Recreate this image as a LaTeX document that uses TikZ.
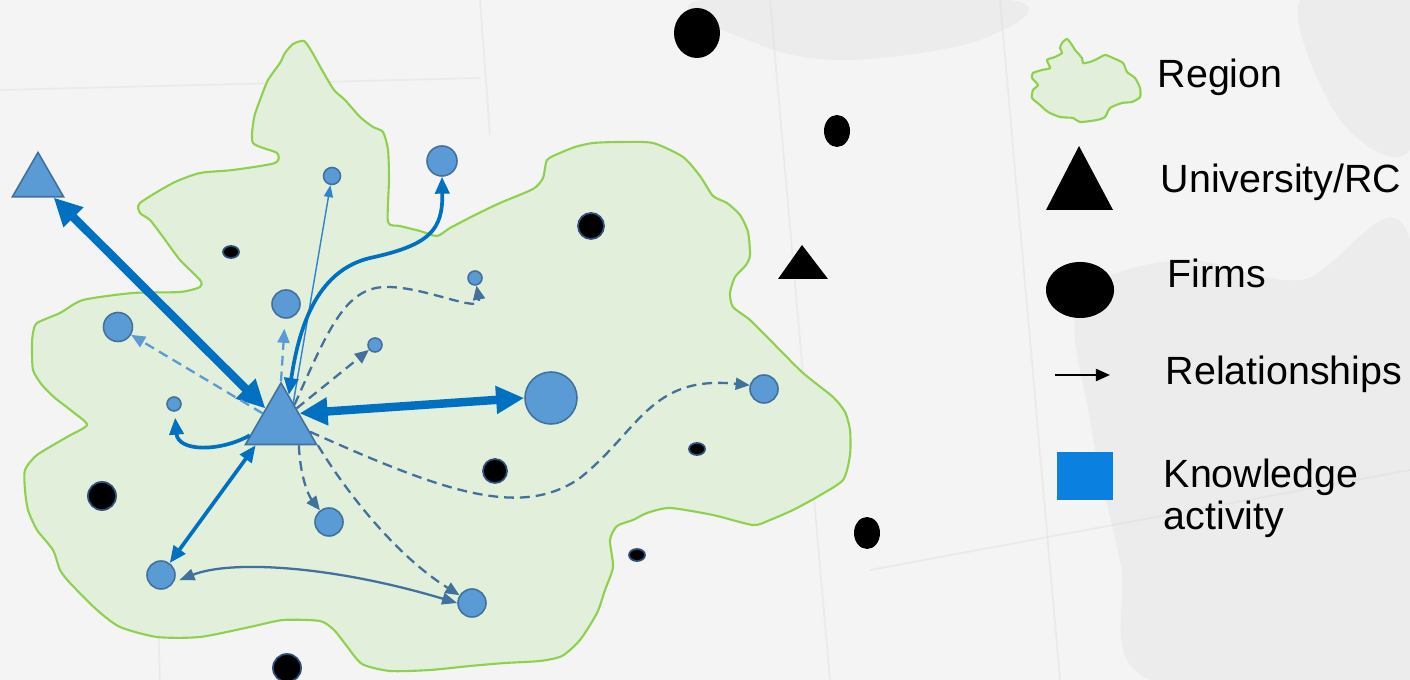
\documentclass[tikz,border=0pt]{standalone}
\usepackage{fontspec}
\setmainfont{Liberation Sans}
\usetikzlibrary{shapes.geometric, arrows.meta, positioning}
\definecolor{bgcol}{HTML}{F4F4F4}
\definecolor{regfill}{HTML}{E2EFDA}
\definecolor{regline}{HTML}{8FD14F}
\definecolor{kfill}{HTML}{5B9BD5}
\definecolor{kline}{HTML}{41719C}
\definecolor{flowblue}{HTML}{0070C0}
\definecolor{thinblue}{HTML}{2F83D0}
\definecolor{slate}{HTML}{41719C}
\definecolor{legblue}{HTML}{0A80E0}
\definecolor{halo}{HTML}{2B4F7A}
\tikzset{
  know/.style={circle, fill=kfill, draw=kline, line width=0.45pt, inner sep=0pt},
  firm/.style={ellipse, fill=black, draw=halo, line width=0.5pt, inner sep=0pt},
  unirc/.style={regular polygon, regular polygon sides=3, fill=kfill, draw=kline, line width=0.45pt, inner sep=0pt},
  region/.style={draw=regline, fill=regfill, line width=0.6pt},
  bigflow/.style={flowblue, line width=2.4pt, {Triangle[length=8pt,width=7.5pt]}-{Triangle[length=8pt,width=7.5pt]}},
  kflow/.style={flowblue, line width=1.05pt, -{Triangle[length=4.8pt,width=4pt]}},
  kflowboth/.style={kflow, {Triangle[length=4.8pt,width=4pt]}-{Triangle[length=4.8pt,width=4pt]}},
  thinflow/.style={thinblue, line width=0.4pt, -{Triangle[length=3.4pt,width=2.6pt]}},
  dflow/.style={slate, line width=0.65pt, dash pattern=on 2.8pt off 1.7pt, -{Triangle[length=4pt,width=3.4pt]}},
  lightflow/.style={dflow, kfill},
  slateboth/.style={slate, line width=0.65pt, {Triangle[length=4.3pt,width=3.3pt]}-{Triangle[length=4.3pt,width=3.3pt]}},
  legtext/.style={anchor=base west, font=\fontsize{11.2}{12.2}\selectfont, inner sep=0pt}
}

\begin{document}
\begin{tikzpicture}[x=0.01cm, y=-0.01cm]

    % 0. Fondo
    \fill[bgcol] (0,0) rectangle (1410,680);
    \useasboundingbox (0,0) rectangle (1410,680);
    \begin{scope}[black, opacity=0.03]
        \fill plot[smooth cycle, tension=0.6] coordinates {(700,0) (1010,0) (980,40) (850,60) (760,45)};
        \fill plot[smooth cycle, tension=0.6] coordinates {(1080,300) (1180,260) (1300,280) (1410,240) (1410,680) (1150,680) (1120,560) (1090,420)};
        \fill plot[smooth cycle, tension=0.6] coordinates {(1300,0) (1410,0) (1410,150) (1340,120)};
    \end{scope}
    \begin{scope}[gray!30, line width=0.5pt, opacity=0.35]
        \draw (0,90) -- (480,78);
        \draw (480,0) -- (490,135);
        \draw (150,380) -- (160,680);
        \draw (770,0) -- (830,680);
        \draw (870,570) -- (1410,470);
        \draw (1000,0) -- (1060,680);
    \end{scope}

    % 1. Region
    \draw[region] plot[smooth cycle, tension=0.4] coordinates {
        (304,41) (312,52) (322,70) (334,90) (345,100) (360,117) (373,127) (383,132)
        (388,150) (389,180) (388,222) (400,226) (420,231) (437,236) (450,228) (475,215)
        (500,203) (533,189) (543,178) (547,160) (560,153) (575,147) (593,143) (620,142)
        (653,143) (683,157) (700,176) (713,196) (727,203) (740,215) (748,232) (750,255)
        (746,265) (735,277) (730,293) (733,307) (750,320) (773,343) (803,373) (833,397)
        (845,412) (850,430) (850,455) (843,480) (817,497) (793,510) (770,520) (753,525)
        (713,515) (670,508) (647,513) (633,520) (617,526) (610,540) (613,567) (605,590)
        (597,613) (580,640) (562,656) (540,661) (505,663) (470,666) (430,670) (390,671)
        (362,664) (346,645) (334,630) (320,621) (283,620) (250,627) (200,637) (157,637)
        (120,627) (97,610) (70,583) (60,570) (53,550) (37,530) (28,510) (25,490)
        (25,470) (37,455) (67,437) (87,425) (73,412) (55,398) (42,385) (33,370)
        (32,345) (33,333) (37,323) (60,313) (83,300) (133,293) (180,292) (200,287)
        (200,280) (180,260) (163,237) (150,220) (140,213) (140,203) (173,183) (200,173)
        (233,170) (275,163) (277,153) (253,143) (254,118) (260,100) (268,80) (280,63)
        (285,53) (293,44)};

    % 2. Empresas
    \foreach \name/\x/\y/\w/\h in {f3/591/226/26/26,
        f4/231/252/16/12, f5/495/471/24/24, f6/697/449/16/12, f7/102/496/28/28,
        f8/637/555/16/12, f10/287/668/28/28}
        \node[firm, minimum width=\w*0.01cm, minimum height=\h*0.01cm] (\name) at (\x,\y) {};
    \foreach \name/\x/\y/\w/\h in {f1/697/33/46/50, f2/837/131/26/32, f9/867/533/26/32}
        \node[firm, draw=none, minimum width=\w*0.01cm, minimum height=\h*0.01cm] (\name) at (\x,\y) {};
    \fill (802,245) -- (828,279) -- (778,279) -- cycle;

    % 3. Actividades de conocimiento
    \foreach \name/\x/\y/\d in {k1/442/161/30, k2/332/176/17, k3/286/304/28, k4/118/327/29,
        k5/375/345/14, k6/475/278/14, k7/174/404/14, k8/551/398/52, k9/764/389/28,
        k10/329/522/28, k11/161/575/28, k12/472/603/28}
        \node[know, minimum size=\d*0.01cm] (\name) at (\x,\y) {};

    % 4. Universidades
    \node[unirc, minimum size=0.82cm] (uni) at (281,424) {};
    \node[unirc, minimum size=0.59cm] (unileft) at (38,182) {};

    % 5. Relaciones
    \draw[bigflow] (unileft) -- (uni);
    \draw[bigflow] (uni.30) -- (k8.west);
    \draw[thinflow] (uni.60) -- (k2);
    \draw[kflowboth] (uni.75) .. controls (300,320) and (320,270) .. (370,258)
        .. controls (430,245) and (443,230) .. (k1.south);
    \draw[dflow] (uni.55) .. controls (328,330) and (345,288) .. (385,287)
        .. controls (425,286) and (482,315) .. (k6);
    \draw[dflow] (uni.45) -- (k5);
    \draw[lightflow, shorten >=0.1cm] (uni.north) -- (k3);
    \draw[lightflow] (uni.150) -- (k4);
    \draw[kflow, shorten >=0.06cm] (uni.200) .. controls (220,452) and (178,452) .. (k7);
    \draw[kflowboth] (uni.220) -- (k11);
    \draw[dflow] (uni.-50) .. controls (300,475) and (308,495) .. (k10);
    \draw[dflow] (uni.-30) .. controls (345,490) and (395,555) .. (k12);
    \draw[dflow] (uni.-15) .. controls (440,490) and (520,520) .. (580,478)
        .. controls (640,430) and (650,375) .. (k9.165);
    \draw[slateboth, shorten <=0.06cm] (k11.-30) .. controls (230,560) and (330,565) .. (k12.west);

    % 6. Leyenda
    \draw[region] plot[smooth cycle, tension=0.4] coordinates {
        (1067,39) (1072,45) (1075,50) (1082,58) (1083,63) (1090,62) (1097,59) (1105,55)
        (1113,58) (1123,63) (1127,72) (1135,78) (1140,88) (1140,97) (1132,102) (1122,103)
        (1110,108) (1105,117) (1097,120) (1080,122) (1073,118) (1060,117) (1048,112)
        (1040,105) (1032,98) (1033,90) (1038,85) (1032,78) (1033,73) (1042,70) (1050,68)
        (1047,60) (1055,57) (1062,53) (1060,48) (1062,43)};
    \node[legtext] (lregion) at (1157,88) {Region};
    \fill (1079,146) -- (1113,210) -- (1046,210) -- cycle;
    \node[legtext] (luni) at (1160,193) {University/RC};
    \node[firm, draw=none, minimum width=0.68cm, minimum height=0.56cm] (lfirm) at (1080,290) {};
    \node[legtext] (lfirmtext) at (1167,288) {Firms};
    \coordinate (lrela) at (1055,375);
    \coordinate (lrelb) at (1110,375);
    \draw[black, line width=0.7pt, -{Triangle[length=4pt,width=3.4pt]}] (lrela) -- (lrelb);
    \node[legtext] (lrel) at (1165,385) {Relationships};
    \fill[legblue] (1057,452) rectangle (1113,500);
    \node[legtext, align=left] (lknow) at (1163,530) {Knowledge\\activity};

\end{tikzpicture}
\end{document}
